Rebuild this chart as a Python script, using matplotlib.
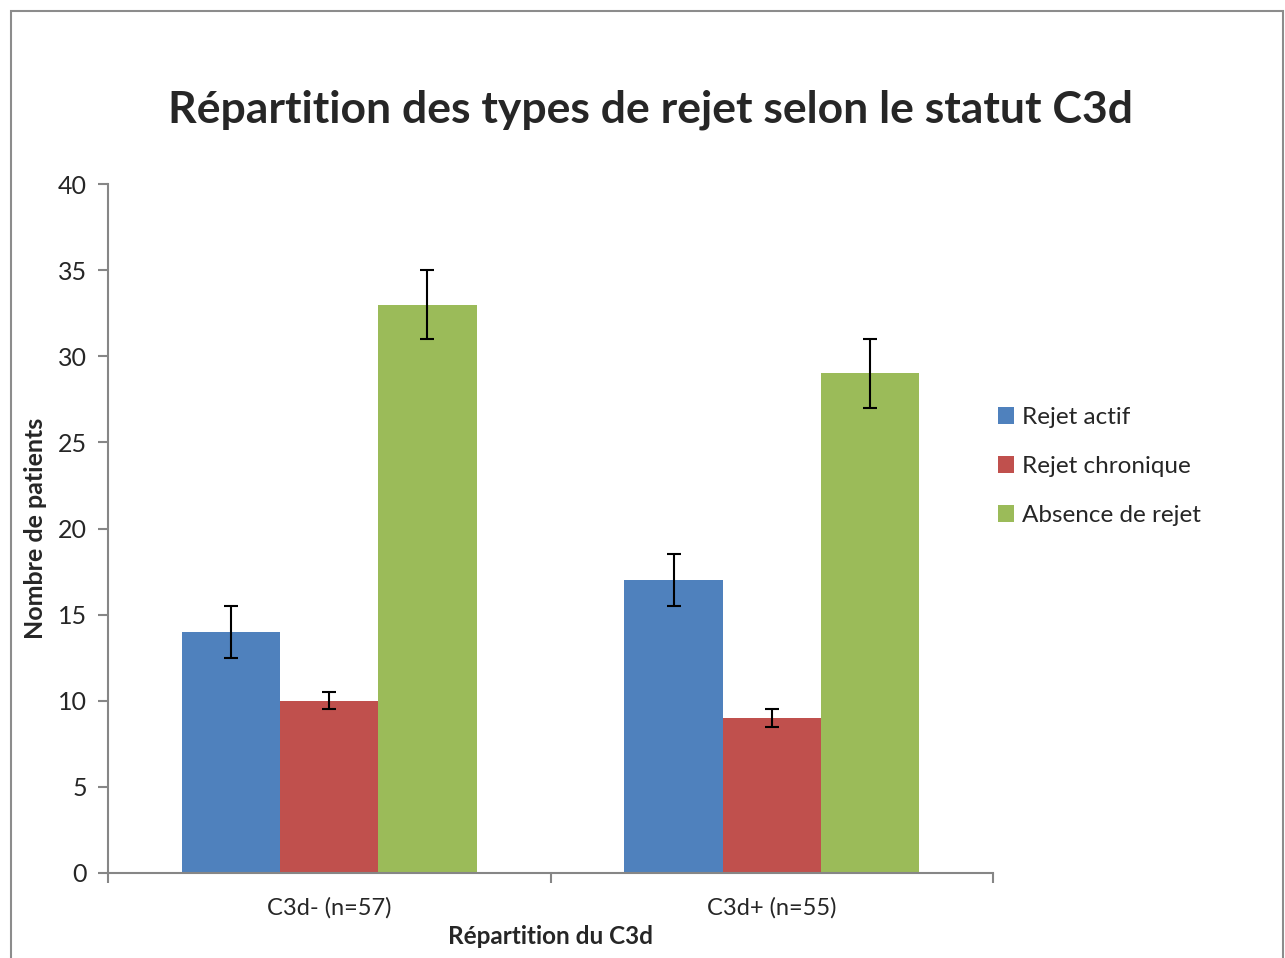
import numpy as np
import matplotlib.pyplot as plt
from matplotlib.patches import Rectangle

groups = ['C3d- (n=57)', 'C3d+ (n=55)']
series = ['Rejet actif', 'Rejet chronique', 'Absence de rejet']
actif = [14, 17]
chronique = [10, 9]
absence = [33, 29]
err_actif = [1.5, 1.5]
err_chronique = [0.5, 0.5]
err_absence = [2, 2]

colors = ['#4f81bd', '#c0504d', '#9bbb59']
plt.rcParams['font.family'] = ['Lato', 'DejaVu Sans']

fig = plt.figure(figsize=(12.85, 9.58), dpi=100)
ax = fig.add_axes([108/1285, 1-873/958, 885/1285, (873-184)/958])

x = np.arange(len(groups))
w = 0.222
vals = [actif, chronique, absence]
errs = [err_actif, err_chronique, err_absence]
for i in range(3):
    ax.bar(x + (i-1)*w, vals[i], w, color=colors[i], label=series[i],
           yerr=errs[i], error_kw=dict(ecolor='black', elinewidth=1.5, capsize=5, capthick=1.5))

ax.set_xlim(-0.5, 1.5)
ax.set_ylim(0, 40)
ax.set_yticks(range(0, 41, 5))
ax.set_xticks([-0.5, 0.5, 1.5])
ax.set_xticklabels([])
ax.set_xticks(x, minor=True)
ax.set_xticklabels(groups, minor=True)
ax.tick_params(axis='x', which='minor', length=0, pad=17, labelsize=17, colors='#262626')
ax.tick_params(axis='x', which='major', length=7, width=1.5, color='#868686')
ax.tick_params(axis='y', length=7, width=1.5, color='#868686', labelsize=18, labelcolor='#262626', pad=8)
for s in ['top', 'right']:
    ax.spines[s].set_visible(False)
for s in ['left', 'bottom']:
    ax.spines[s].set_color('#868686')
    ax.spines[s].set_linewidth(1.5)

ax.set_xlabel('Répartition du C3d', fontsize=17.5, fontweight='bold', color='#262626', labelpad=5)
ax.set_ylabel('Nombre de patients', fontsize=18, fontweight='bold', color='#262626', labelpad=8)
fig.text(0.506, 1-110/958, 'Répartition des types de rejet selon le statut C3d', ha='center', va='center',
         fontsize=32, fontweight='bold', color='#262626')

leg = ax.legend(loc='center left', bbox_to_anchor=(998/1285, 1-466.5/958), bbox_transform=fig.transFigure,
                borderaxespad=0, borderpad=0, frameon=False, fontsize=17.5,
                handlelength=0.65, handleheight=0.65, handletextpad=0.35, labelspacing=1.15,
                labelcolor='#262626')

fig.patches.append(Rectangle((11/1285, -0.05), (1283-11)/1285, 1.05 - 11/958, transform=fig.transFigure,
                             fill=False, edgecolor='#8c8c8c', linewidth=1.5))

fig.savefig('out.png', dpi=100)
